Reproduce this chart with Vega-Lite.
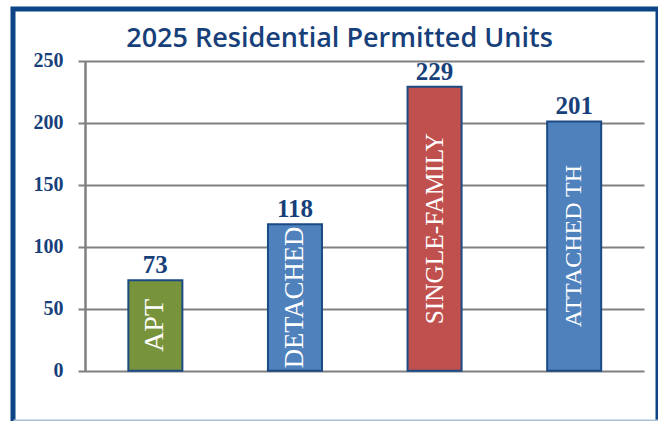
{
  "$schema": "https://vega.github.io/schema/vega-lite/v6.json",
  "width": 645,
  "height": 414,
  "autosize": {"type": "none"},
  "padding": {"left": 13, "top": 9, "right": 0, "bottom": 0},
  "background": "white",
  "config": {"view": {"stroke": "#0D4486", "strokeWidth": 5}},
  "title": {
    "text": "2025 Residential Permitted Units",
    "font": "Open Sans",
    "fontWeight": 600,
    "fontSize": 27,
    "color": "#173F7A",
    "anchor": "middle",
    "baseline": "alphabetic",
    "offset": -65,
    "dx": 4
  },
  "data": {
    "values": [
      {"category": "APT", "value": 73},
      {"category": "DETACHED", "value": 118},
      {"category": "SINGLE-FAMILY", "value": 229},
      {"category": "ATTACHED TH", "value": 201}
    ]
  },
  "encoding": {
    "x": {
      "field": "category",
      "type": "nominal",
      "sort": null,
      "scale": {"type": "band", "paddingInner": 0.613, "paddingOuter": 0.6166, "align": 0.67},
      "axis": {
        "orient": "top",
        "offset": -361.7,
        "values": ["APT"],
        "bandPosition": 0,
        "tickOffset": -43,
        "tickSize": 310,
        "tickWidth": 2,
        "tickColor": "#808080",
        "labels": false,
        "domain": false,
        "grid": false,
        "title": null
      }
    }
  },
  "layer": [
    {
      "mark": {"type": "bar", "stroke": "#1C4A84", "strokeWidth": 2},
      "encoding": {
        "y": {
          "field": "value",
          "type": "quantitative",
          "scale": {"domain": [-42.2, 291.7], "nice": false, "zero": false},
          "axis": {
            "orient": "left",
            "offset": -631,
            "values": [0, 50, 100, 150, 200, 250],
            "tickSize": 566,
            "tickWidth": 2,
            "tickColor": "#808080",
            "domain": false,
            "grid": false,
            "labelPadding": 15,
            "labelFont": "Liberation Serif",
            "labelFontWeight": "bold",
            "labelFontSize": 20,
            "labelColor": "#173F7A",
            "title": null
          }
        },
        "y2": {"datum": 0},
        "color": {
          "field": "category",
          "type": "nominal",
          "scale": {
            "domain": ["APT", "DETACHED", "SINGLE-FAMILY", "ATTACHED TH"],
            "range": ["#77933C", "#4F81BD", "#C0504D", "#4F81BD"]
          },
          "legend": null
        }
      }
    },
    {
      "mark": {"type": "text", "angle": 270, "align": "center", "baseline": "middle", "font": "Liberation Serif", "color": "white"},
      "encoding": {
        "y": {
          "field": "value",
          "type": "quantitative",
          "scale": {"domain": [-84.4, 583.4], "nice": false, "zero": false},
          "axis": null
        },
        "text": {"field": "category"},
        "size": {
          "field": "category",
          "type": "nominal",
          "scale": {
            "domain": ["APT", "DETACHED", "SINGLE-FAMILY", "ATTACHED TH"],
            "range": [28, 24, 29, 26.5]
          },
          "legend": null
        }
      }
    },
    {
      "mark": {"type": "text", "dy": -7, "baseline": "alphabetic", "font": "Liberation Serif", "fontWeight": "bold", "fontSize": 25, "color": "#173F7A"},
      "encoding": {
        "x": {
          "field": "category",
          "type": "nominal",
          "sort": null,
          "scale": {"type": "band", "paddingInner": 0.613, "paddingOuter": 0.6166, "align": 0.67},
          "axis": {
            "orient": "bottom",
            "offset": -3,
            "domain": true,
            "domainColor": "#A9BFDA",
            "domainWidth": 2,
            "ticks": false,
            "labels": false,
            "grid": false,
            "title": null
          }
        },
        "y": {
          "field": "value",
          "type": "quantitative",
          "scale": {"domain": [-42.2, 291.7], "nice": false, "zero": false},
          "axis": null
        },
        "text": {"field": "value", "type": "quantitative"}
      }
    }
  ],
  "resolve": {"scale": {"y": "independent", "x": "independent"}}
}
